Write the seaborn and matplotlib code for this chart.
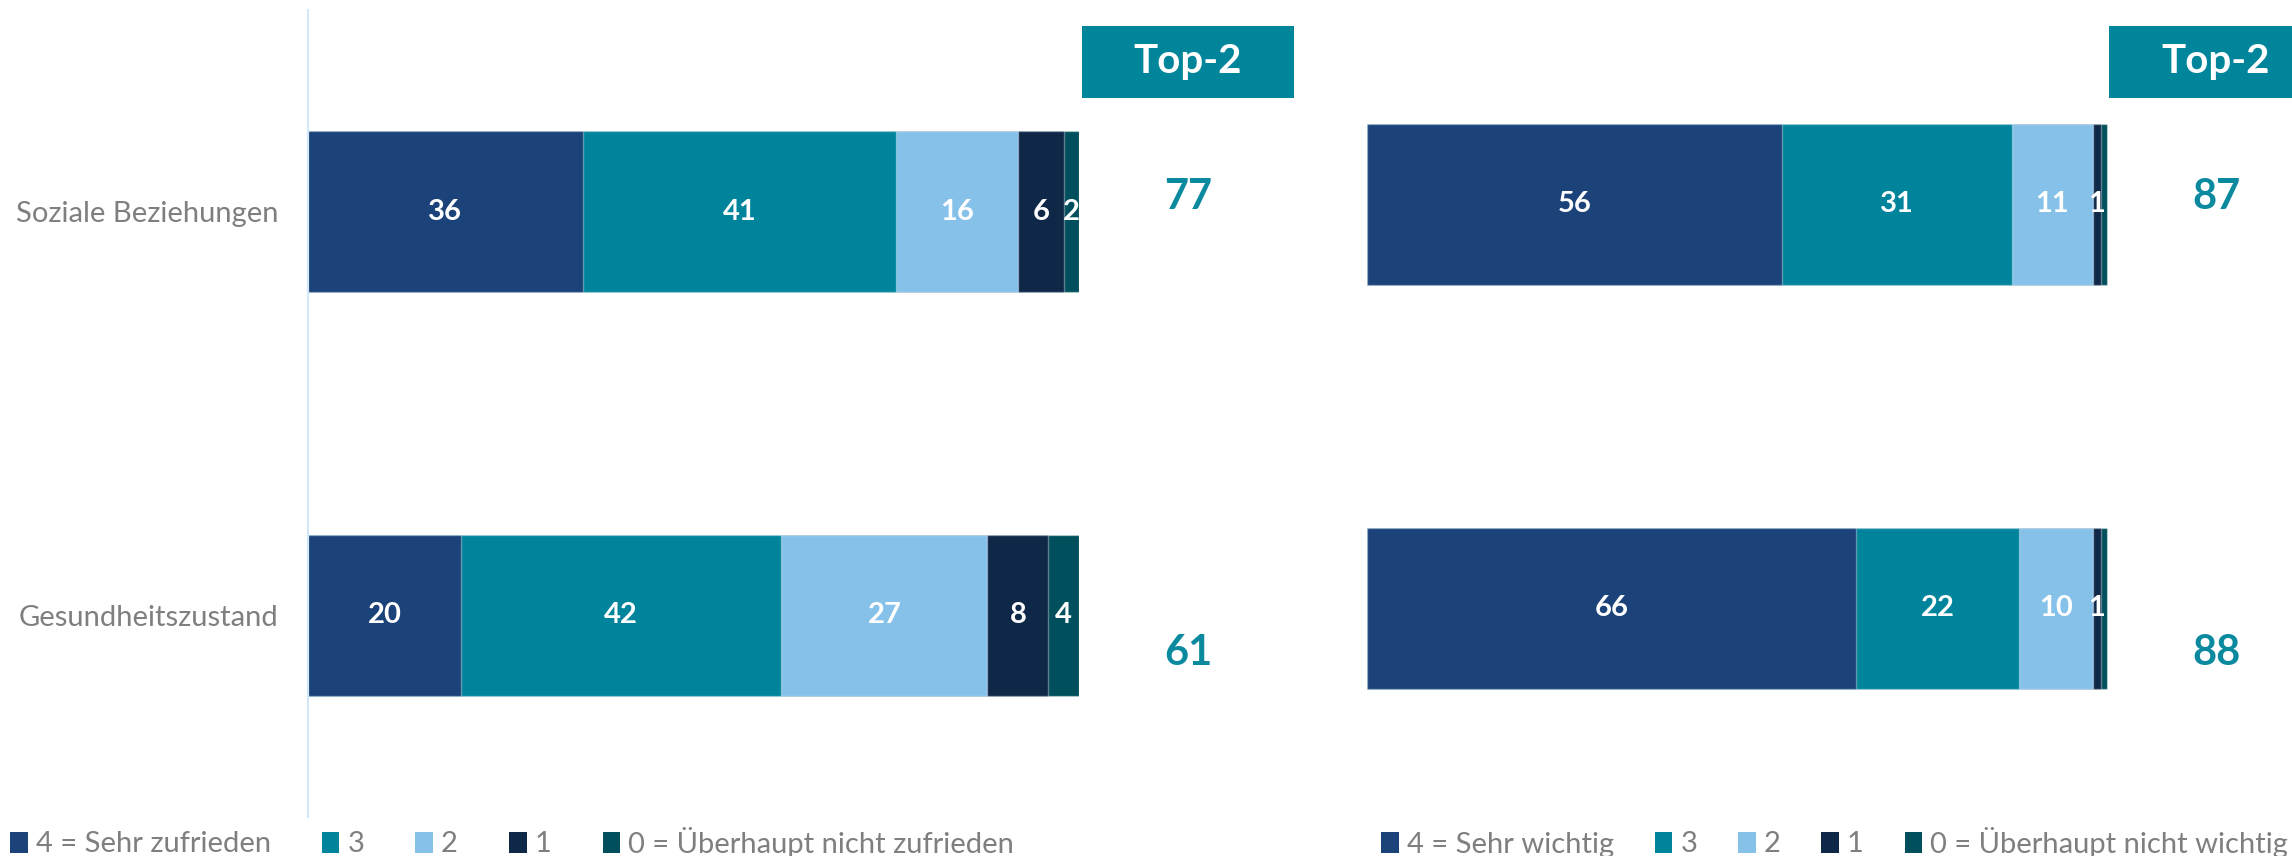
import numpy as np
import seaborn as sns
import matplotlib.pyplot as plt
from matplotlib.patches import Patch, Rectangle

# data
categories = ['Soziale Beziehungen', 'Gesundheitszustand']
levels_zufrieden = ['4 = Sehr zufrieden', '3', '2', '1', '0 = Überhaupt nicht zufrieden']
levels_wichtig = ['4 = Sehr wichtig', '3', '2', '1', '0 = Überhaupt nicht wichtig']

zufrieden_4 = [36, 20]
zufrieden_3 = [41, 42]
zufrieden_2 = [16, 27]
zufrieden_1 = [6, 8]
zufrieden_0 = [2, 4]
zufrieden_top2 = [77, 61]

wichtig_4 = [56, 66]
wichtig_3 = [31, 22]
wichtig_2 = [11, 10]
wichtig_1 = [1, 1]
wichtig_0 = [0.9, 0.8]   # thin, unlabelled segment
wichtig_top2 = [87, 88]

colors = ['#1B4279', '#00849C', '#86C1EA', '#102848', '#004F5C']
teal = '#00859B'
grey = '#7F7F7F'

sns.set_style('white')
plt.rcParams['font.family'] = ['Lato', 'DejaVu Sans']

W, H = 2292, 856
fig = plt.figure(figsize=(W / 100, H / 100), dpi=100)


def stacked(ax, series):
    vals = np.array(series, dtype=float)
    cum = np.cumsum(vals, axis=0)
    # draw the longest cumulative bar first, shorter ones on top
    for i in range(len(series) - 1, -1, -1):
        sns.barplot(x=cum[i], y=categories, color=colors[i], orient='h',
                    width=0.4, saturation=1, edgecolor=(1, 1, 1, 0.35),
                    linewidth=1, ax=ax)
    left = cum - vals
    for i in range(vals.shape[0]):
        for j in range(vals.shape[1]):
            v = vals[i, j]
            if v >= 1:
                ax.text(left[i, j] + v / 2, j, f'{v:g}', ha='center', va='center',
                        color='white', fontsize=21, fontweight='bold')
    ax.set_xlabel('')
    ax.set_ylabel('')
    ax.set_xticks([])
    ax.set_ylim(1.5, -0.5)
    for s in ax.spines.values():
        s.set_visible(False)
    ax.set_facecolor('none')


# left panel: Zufriedenheit
ax1 = fig.add_axes([308 / W, 1 - 817 / H, 771 / W, 807 / H])
stacked(ax1, [zufrieden_4, zufrieden_3, zufrieden_2, zufrieden_1, zufrieden_0])
ax1.set_xlim(0, 101)
ax1.spines['left'].set_visible(True)
ax1.spines['left'].set_color('#D2E8FA')
ax1.spines['left'].set_linewidth(1.5)
ax1.tick_params(axis='y', length=0, pad=21, labelsize=21, labelcolor=grey)

# right panel: Wichtigkeit
ax2 = fig.add_axes([1367 / W, 1 - 810.5 / H, 741 / W, 808 / H])
stacked(ax2, [wichtig_4, wichtig_3, wichtig_2, wichtig_1, wichtig_0])
ax2.set_xlim(0, 100)
ax2.set_yticks([])

# Top-2 boxes and values
for bx, tx in [(1082, 1188), (2109, 2216)]:
    fig.patches.append(Rectangle((bx / W, 1 - 98 / H), 212 / W, 72 / H,
                                 transform=fig.transFigure, facecolor=teal,
                                 edgecolor='none'))
    fig.text(tx / W, 1 - 62 / H, 'Top-2', ha='center', va='center',
             color='white', fontsize=29, fontweight='bold')

top2_y = [197, 653]
for vals, tx in [(zufrieden_top2, 1188), (wichtig_top2, 2216)]:
    for v, ty in zip(vals, top2_y):
        fig.text(tx / W, 1 - ty / H, str(v), ha='center', va='center',
                 color='#0A899F', fontsize=30, fontweight='bold')

# legends
handles = [Patch(facecolor=c, edgecolor='none') for c in colors]
for labels, lx, cs in [(levels_zufrieden, 10, 1.75), (levels_wichtig, 1381, 1.4)]:
    fig.legend(handles, labels, loc='center left',
               bbox_to_anchor=(lx / W, 1 - 842 / H), ncol=5, frameon=False,
               fontsize=21, handlelength=0.6, handleheight=0.7,
               handletextpad=0.28, columnspacing=cs, borderpad=0,
               borderaxespad=0, labelcolor=grey)

plt.savefig('out.png', dpi=100)
